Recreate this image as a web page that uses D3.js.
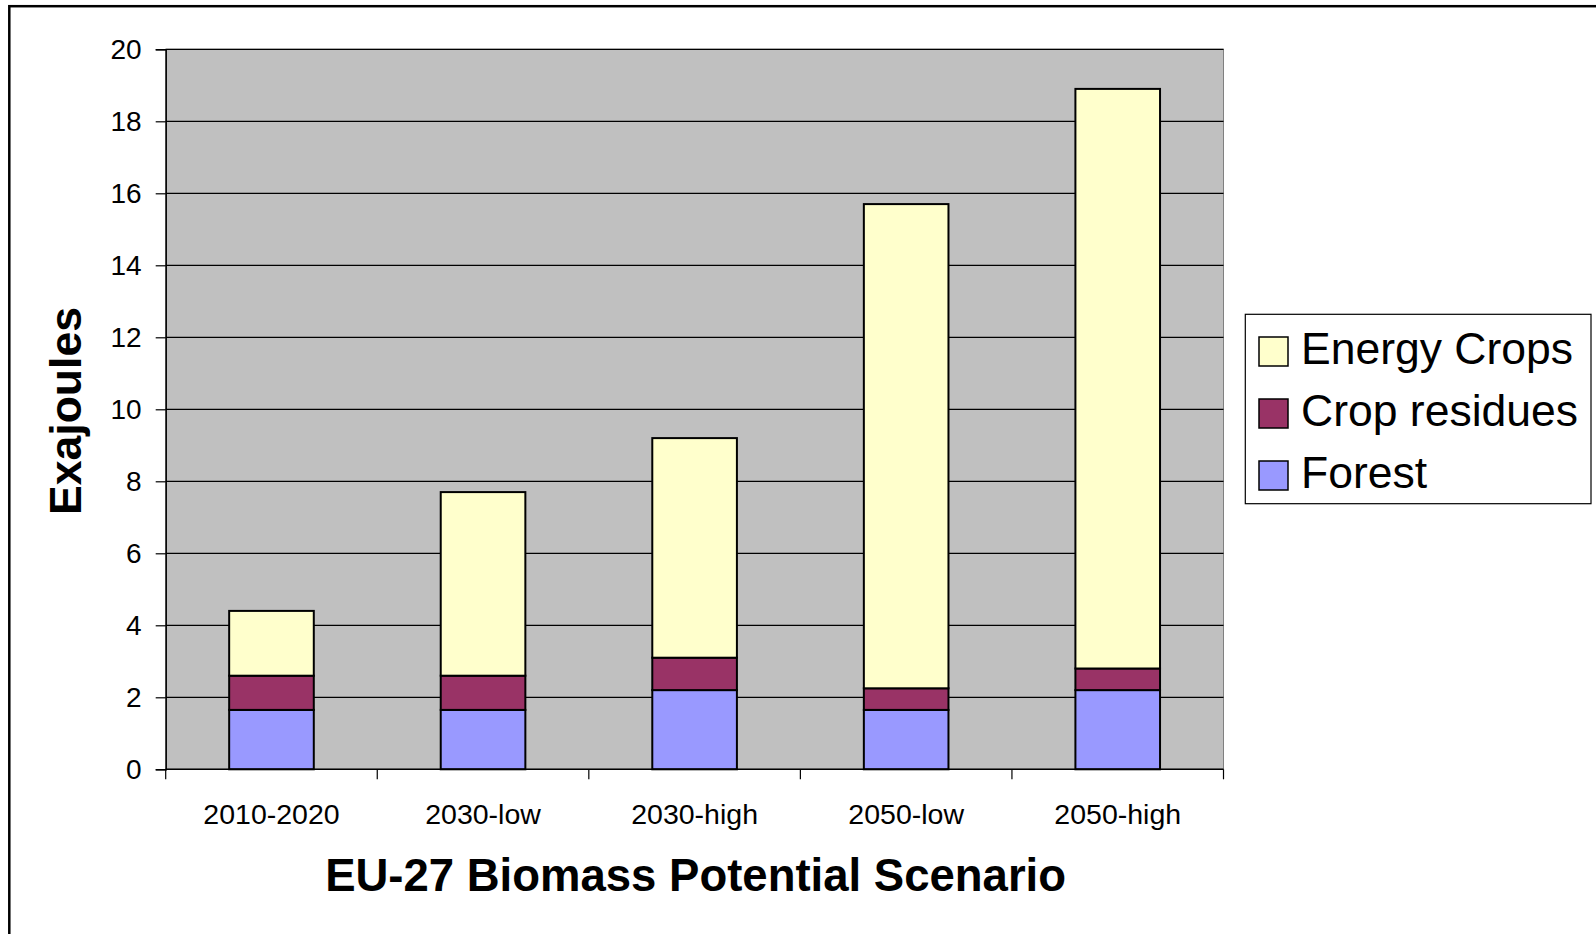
<!DOCTYPE html>
<html>
<head>
<meta charset="utf-8">
<script src="https://cdn.jsdelivr.net/npm/d3@7"></script>
<style>
  html, body { margin: 0; padding: 0; background: #ffffff; overflow: hidden; }
  svg { display: block; font-family: "Liberation Sans", Arial, sans-serif; }
</style>
</head>
<body>
<svg id="chart" width="1596" height="934"></svg>
<script>
// Scenario categories and stacked biomass potential (EJ)
const scenarios = ["2010-2020", "2030-low", "2030-high", "2050-low", "2050-high"];
const forest = [1.65, 1.65, 2.2, 1.65, 2.2];
const cropResidues = [0.95, 0.95, 0.9, 0.6, 0.6];
const energyCrops = [1.8, 5.1, 6.1, 13.45, 16.1];
const yTicks = [0, 2, 4, 6, 8, 10, 12, 14, 16, 18, 20];

const seriesNames = ["Forest", "Crop residues", "Energy Crops"];
const seriesColors = ["#9999FF", "#993366", "#FFFFCC"];

const rows = scenarios.map((s, i) => ({
  scenario: s,
  "Forest": forest[i],
  "Crop residues": cropResidues[i],
  "Energy Crops": energyCrops[i]
}));

const svg = d3.select("#chart");

// Outer chart frame
svg.append("rect")
  .attr("x", 9.3).attr("y", 6.2)
  .attr("width", 2000).attr("height", 2000)
  .attr("fill", "none").attr("stroke", "#000").attr("stroke-width", 2.5);

const plot = { left: 165.7, right: 1223.5, top: 49.3, bottom: 769.3 };

const x = d3.scaleBand()
  .domain(scenarios)
  .range([plot.left, plot.right])
  .paddingInner(0.6)
  .paddingOuter(0.3);

const y = d3.scaleLinear()
  .domain([0, 20])
  .range([plot.bottom, plot.top]);

// Plot area
svg.append("rect")
  .attr("x", plot.left).attr("y", plot.top)
  .attr("width", plot.right - plot.left).attr("height", plot.bottom - plot.top)
  .attr("fill", "#C0C0C0").attr("stroke", "#808080").attr("stroke-width", 1);

// Horizontal gridlines
svg.append("g").selectAll("line")
  .data(yTicks.filter(t => t > 0))
  .join("line")
  .attr("x1", plot.left).attr("x2", plot.right)
  .attr("y1", d => y(d)).attr("y2", d => y(d))
  .attr("stroke", "#000").attr("stroke-width", 1.2);

// Stacked bars
const stack = d3.stack().keys(seriesNames);
const layers = stack(rows);

svg.append("g").selectAll("g")
  .data(layers)
  .join("g")
  .attr("fill", (d, i) => seriesColors[i])
  .selectAll("rect")
  .data(d => d)
  .join("rect")
  .attr("x", d => x(d.data.scenario))
  .attr("width", x.bandwidth())
  .attr("y", d => y(d[1]))
  .attr("height", d => y(d[0]) - y(d[1]))
  .attr("stroke", "#000")
  .attr("stroke-width", 2);

// Y axis
const yAxis = d3.axisLeft(y)
  .tickValues(yTicks)
  .tickSize(10)
  .tickPadding(14)
  .tickFormat(d3.format("d"));

const yg = svg.append("g")
  .attr("transform", `translate(${plot.left},0)`)
  .call(yAxis);
yg.select(".domain").attr("stroke", "#000").attr("stroke-width", 1.5);
yg.selectAll(".tick line").attr("stroke", "#000").attr("stroke-width", 1.2);
yg.selectAll(".tick text")
  .attr("fill", "#000")
  .style("font-size", "28px")
  .style("font-family", "'Liberation Sans', Arial, sans-serif");

// X axis line with category boundary ticks
svg.append("line")
  .attr("x1", plot.left).attr("x2", plot.right)
  .attr("y1", plot.bottom).attr("y2", plot.bottom)
  .attr("stroke", "#000").attr("stroke-width", 1.5);

const boundaries = d3.range(scenarios.length + 1).map(i => plot.left + i * x.step());
svg.append("g").selectAll("line")
  .data(boundaries)
  .join("line")
  .attr("x1", d => d).attr("x2", d => d)
  .attr("y1", plot.bottom).attr("y2", plot.bottom + 10)
  .attr("stroke", "#000").attr("stroke-width", 1.2);

// Category labels
svg.append("g").selectAll("text")
  .data(scenarios)
  .join("text")
  .attr("x", d => x(d) + x.bandwidth() / 2)
  .attr("y", 824)
  .attr("text-anchor", "middle")
  .style("font-size", "28.5px")
  .attr("fill", "#000")
  .text(d => d);

// Axis titles
svg.append("text")
  .attr("x", (plot.left + plot.right) / 2 + 1)
  .attr("y", 891)
  .attr("text-anchor", "middle")
  .style("font-size", "45.5px")
  .style("font-weight", "bold")
  .attr("fill", "#000")
  .text("EU-27 Biomass Potential Scenario");

svg.append("text")
  .attr("transform", "translate(81,411) rotate(-90)")
  .attr("text-anchor", "middle")
  .style("font-size", "44.6px")
  .style("font-weight", "bold")
  .attr("fill", "#000")
  .text("Exajoules");

// Legend (top entry is the top of the stack)
const legend = svg.append("g");
legend.append("rect")
  .attr("x", 1245.3).attr("y", 314.3)
  .attr("width", 1591 - 1245.3).attr("height", 503.7 - 314.3)
  .attr("fill", "#fff").attr("stroke", "#000").attr("stroke-width", 1.2);

const legendItems = seriesNames.map((n, i) => ({ name: n, color: seriesColors[i] })).reverse();
const li = legend.selectAll("g.item")
  .data(legendItems)
  .join("g")
  .attr("class", "item")
  .attr("transform", (d, i) => `translate(0,${i * 62})`);

li.append("rect")
  .attr("x", 1259).attr("y", 337)
  .attr("width", 29).attr("height", 29)
  .attr("fill", d => d.color)
  .attr("stroke", "#000").attr("stroke-width", 1.5);

li.append("text")
  .attr("x", 1301).attr("y", 364)
  .style("font-size", "44.5px")
  .attr("fill", "#000")
  .text(d => d.name);
</script>
</body>
</html>
